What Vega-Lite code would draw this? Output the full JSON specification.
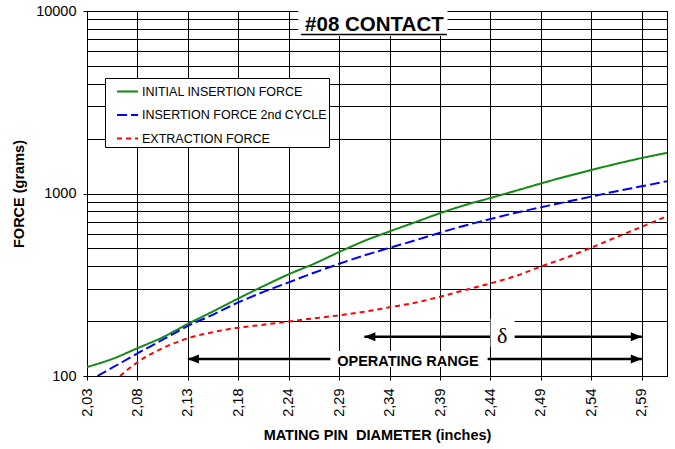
{
  "$schema": "https://vega.github.io/schema/vega-lite/v6.json",
  "autosize": {"type": "none"},
  "padding": {"left": 87, "top": 11, "right": 8, "bottom": 73},
  "width": 580,
  "height": 365,
  "background": "white",
  "config": {
    "font": "Liberation Sans",
    "view": {"stroke": "black", "strokeWidth": 1},
    "legend": {
      "orient": "none",
      "legendX": 18,
      "legendY": 67,
      "fillColor": "white",
      "strokeColor": "black",
      "padding": 2,
      "symbolOffset": 9,
      "symbolType": "stroke",
      "symbolSize": 441,
      "symbolStrokeWidth": 2,
      "labelFontSize": 12.5,
      "labelFont": "Liberation Sans",
      "labelColor": "black",
      "labelOffset": 3,
      "rowPadding": 5.5,
      "labelLimit": 400
    }
  },
  "datasets": {
    "curves": [
      {"x": 2.032, "force": 112, "series": "INITIAL INSERTION FORCE"},
      {"x": 2.0574, "force": 124, "series": "INITIAL INSERTION FORCE"},
      {"x": 2.0828, "force": 142, "series": "INITIAL INSERTION FORCE"},
      {"x": 2.1082, "force": 163, "series": "INITIAL INSERTION FORCE"},
      {"x": 2.1336, "force": 193, "series": "INITIAL INSERTION FORCE"},
      {"x": 2.159, "force": 226, "series": "INITIAL INSERTION FORCE"},
      {"x": 2.1844, "force": 266, "series": "INITIAL INSERTION FORCE"},
      {"x": 2.2098, "force": 311, "series": "INITIAL INSERTION FORCE"},
      {"x": 2.2352, "force": 361, "series": "INITIAL INSERTION FORCE"},
      {"x": 2.2606, "force": 412, "series": "INITIAL INSERTION FORCE"},
      {"x": 2.286, "force": 478, "series": "INITIAL INSERTION FORCE"},
      {"x": 2.3114, "force": 550, "series": "INITIAL INSERTION FORCE"},
      {"x": 2.3368, "force": 620, "series": "INITIAL INSERTION FORCE"},
      {"x": 2.3622, "force": 695, "series": "INITIAL INSERTION FORCE"},
      {"x": 2.3876, "force": 780, "series": "INITIAL INSERTION FORCE"},
      {"x": 2.413, "force": 865, "series": "INITIAL INSERTION FORCE"},
      {"x": 2.4384, "force": 945, "series": "INITIAL INSERTION FORCE"},
      {"x": 2.4638, "force": 1035, "series": "INITIAL INSERTION FORCE"},
      {"x": 2.4892, "force": 1135, "series": "INITIAL INSERTION FORCE"},
      {"x": 2.5146, "force": 1240, "series": "INITIAL INSERTION FORCE"},
      {"x": 2.54, "force": 1345, "series": "INITIAL INSERTION FORCE"},
      {"x": 2.5654, "force": 1455, "series": "INITIAL INSERTION FORCE"},
      {"x": 2.5908, "force": 1565, "series": "INITIAL INSERTION FORCE"},
      {"x": 2.6162, "force": 1670, "series": "INITIAL INSERTION FORCE"},
      {"x": 2.0425, "force": 100, "series": "INSERTION FORCE 2nd CYCLE"},
      {"x": 2.0574, "force": 111, "series": "INSERTION FORCE 2nd CYCLE"},
      {"x": 2.0828, "force": 133, "series": "INSERTION FORCE 2nd CYCLE"},
      {"x": 2.1082, "force": 158, "series": "INSERTION FORCE 2nd CYCLE"},
      {"x": 2.1336, "force": 188, "series": "INSERTION FORCE 2nd CYCLE"},
      {"x": 2.159, "force": 217, "series": "INSERTION FORCE 2nd CYCLE"},
      {"x": 2.1844, "force": 253, "series": "INSERTION FORCE 2nd CYCLE"},
      {"x": 2.2098, "force": 289, "series": "INSERTION FORCE 2nd CYCLE"},
      {"x": 2.2352, "force": 326, "series": "INSERTION FORCE 2nd CYCLE"},
      {"x": 2.2606, "force": 368, "series": "INSERTION FORCE 2nd CYCLE"},
      {"x": 2.286, "force": 412, "series": "INSERTION FORCE 2nd CYCLE"},
      {"x": 2.3114, "force": 458, "series": "INSERTION FORCE 2nd CYCLE"},
      {"x": 2.3368, "force": 504, "series": "INSERTION FORCE 2nd CYCLE"},
      {"x": 2.3622, "force": 553, "series": "INSERTION FORCE 2nd CYCLE"},
      {"x": 2.3876, "force": 610, "series": "INSERTION FORCE 2nd CYCLE"},
      {"x": 2.413, "force": 668, "series": "INSERTION FORCE 2nd CYCLE"},
      {"x": 2.4384, "force": 725, "series": "INSERTION FORCE 2nd CYCLE"},
      {"x": 2.4638, "force": 784, "series": "INSERTION FORCE 2nd CYCLE"},
      {"x": 2.4892, "force": 840, "series": "INSERTION FORCE 2nd CYCLE"},
      {"x": 2.5146, "force": 900, "series": "INSERTION FORCE 2nd CYCLE"},
      {"x": 2.54, "force": 962, "series": "INSERTION FORCE 2nd CYCLE"},
      {"x": 2.5654, "force": 1030, "series": "INSERTION FORCE 2nd CYCLE"},
      {"x": 2.5908, "force": 1096, "series": "INSERTION FORCE 2nd CYCLE"},
      {"x": 2.6162, "force": 1168, "series": "INSERTION FORCE 2nd CYCLE"},
      {"x": 2.0653, "force": 100, "series": "EXTRACTION FORCE"},
      {"x": 2.0828, "force": 119, "series": "EXTRACTION FORCE"},
      {"x": 2.1082, "force": 142, "series": "EXTRACTION FORCE"},
      {"x": 2.1336, "force": 161, "series": "EXTRACTION FORCE"},
      {"x": 2.159, "force": 174, "series": "EXTRACTION FORCE"},
      {"x": 2.1844, "force": 184, "series": "EXTRACTION FORCE"},
      {"x": 2.2098, "force": 191, "series": "EXTRACTION FORCE"},
      {"x": 2.2352, "force": 199, "series": "EXTRACTION FORCE"},
      {"x": 2.2606, "force": 207, "series": "EXTRACTION FORCE"},
      {"x": 2.286, "force": 215, "series": "EXTRACTION FORCE"},
      {"x": 2.3114, "force": 225, "series": "EXTRACTION FORCE"},
      {"x": 2.3368, "force": 238, "series": "EXTRACTION FORCE"},
      {"x": 2.3622, "force": 252, "series": "EXTRACTION FORCE"},
      {"x": 2.3876, "force": 272, "series": "EXTRACTION FORCE"},
      {"x": 2.413, "force": 296, "series": "EXTRACTION FORCE"},
      {"x": 2.4384, "force": 322, "series": "EXTRACTION FORCE"},
      {"x": 2.4638, "force": 353, "series": "EXTRACTION FORCE"},
      {"x": 2.4892, "force": 398, "series": "EXTRACTION FORCE"},
      {"x": 2.5146, "force": 445, "series": "EXTRACTION FORCE"},
      {"x": 2.54, "force": 505, "series": "EXTRACTION FORCE"},
      {"x": 2.5654, "force": 577, "series": "EXTRACTION FORCE"},
      {"x": 2.5908, "force": 657, "series": "EXTRACTION FORCE"},
      {"x": 2.6162, "force": 752, "series": "EXTRACTION FORCE"}
    ],
    "shafts": [
      {"x": 2.3114, "x2": 2.5908, "y": 164},
      {"x": 2.1336, "x2": 2.5908, "y": 124}
    ],
    "heads": [
      {"x": 2.3114, "y": 164, "dir": "left"},
      {"x": 2.5908, "y": 164, "dir": "right"},
      {"x": 2.1336, "y": 124, "dir": "left"},
      {"x": 2.5908, "y": 124, "dir": "right"}
    ],
    "boxes": [
      {"x": 2.2448, "x2": 2.3951, "y": 10000, "y2": 7300},
      {"x": 2.4385, "x2": 2.4627, "y": 206, "y2": 144},
      {"x": 2.2771, "x2": 2.4355, "y": 137, "y2": 112}
    ],
    "underline": [
      {"x": 2.2475, "x2": 2.3945, "y": 7430}
    ]
  },
  "layer": [
    {
      "data": {"name": "curves"},
      "mark": {"type": "line", "clip": true, "strokeWidth": 2, "interpolate": "monotone"},
      "encoding": {
        "x": {
          "field": "x",
          "type": "quantitative",
          "scale": {"domain": [2.032, 2.6162], "nice": false, "zero": false},
          "axis": {
            "title": "MATING PIN\u00a0 DIAMETER (inches)",
            "titleFont": "Liberation Sans",
            "titleFontSize": 14.5,
            "titleFontWeight": "bold",
            "titleColor": "black",
            "titlePadding": 12,
            "values": [2.032, 2.0574, 2.0828, 2.1082, 2.1336, 2.159, 2.1844, 2.2098, 2.2352, 2.2606, 2.286, 2.3114, 2.3368, 2.3622, 2.3876, 2.413, 2.4384, 2.4638, 2.4892, 2.5146, 2.54, 2.5654, 2.5908, 2.6162],
            "labelExpr": "(round((datum.value - 2.032) / 0.0254) % 2 == 0 && datum.value < 2.6) ? replace(format(datum.value, '.2f'), '.', ',') : ''",
            "labelAngle": 270,
            "labelFontSize": 14.5,
            "labelColor": "black",
            "labelPadding": 8,
            "labelOverlap": false,
            "labelFlush": false,
            "tickSize": 4,
            "tickColor": "black",
            "domainColor": "black",
            "grid": true,
            "gridColor": "black",
            "gridOpacity": 1,
            "gridWidth": 1
          }
        },
        "y": {
          "field": "force",
          "type": "quantitative",
          "scale": {"type": "log", "domain": [100, 10000], "nice": false},
          "axis": {
            "title": "FORCE (grams)",
            "titleFont": "Liberation Sans",
            "titleFontSize": 14.5,
            "titleFontWeight": "bold",
            "titleColor": "black",
            "titlePadding": 9,
            "values": [100, 200, 300, 400, 500, 600, 700, 800, 900, 1000, 2000, 3000, 4000, 5000, 6000, 7000, 8000, 9000, 10000],
            "labelExpr": "(datum.value == 100 || datum.value == 1000 || datum.value == 10000) ? format(datum.value, 'd') : ''",
            "labelFontSize": 14.5,
            "labelColor": "black",
            "labelPadding": 7,
            "labelOverlap": false,
            "labelFlush": false,
            "tickSize": 4,
            "tickColor": "black",
            "tickOpacity": {"condition": {"test": "datum.value == 100 || datum.value == 1000 || datum.value == 10000", "value": 1}, "value": 0},
            "domainColor": "black",
            "grid": true,
            "gridColor": "black",
            "gridOpacity": 1,
            "gridWidth": 1
          }
        },
        "color": {
          "field": "series",
          "type": "nominal",
          "scale": {
            "domain": ["INITIAL INSERTION FORCE", "INSERTION FORCE 2nd CYCLE", "EXTRACTION FORCE"],
            "range": ["#138a13", "#0000ff", "#ff0000"]
          },
          "legend": {"title": null, "labelExpr": "datum.label + '\u00a0\u00a0\u00a0\u00a0\u00a0'"}
        },
        "strokeDash": {
          "field": "series",
          "type": "nominal",
          "scale": {
            "domain": ["INITIAL INSERTION FORCE", "INSERTION FORCE 2nd CYCLE", "EXTRACTION FORCE"],
            "range": [[1, 0], [10, 4], [5, 4]]
          },
          "legend": {"title": null, "labelExpr": "datum.label + '\u00a0\u00a0\u00a0\u00a0\u00a0'"}
        }
      }
    },
    {
      "data": {"name": "shafts"},
      "mark": {"type": "rule", "color": "black", "strokeWidth": 2.5},
      "encoding": {
        "x": {"field": "x", "type": "quantitative"},
        "x2": {"field": "x2"},
        "y": {"field": "y", "type": "quantitative"}
      }
    },
    {
      "data": {"name": "heads"},
      "mark": {"type": "point", "filled": true, "color": "black", "opacity": 1, "size": 100, "strokeWidth": 0},
      "encoding": {
        "x": {"field": "x", "type": "quantitative"},
        "y": {"field": "y", "type": "quantitative"},
        "shape": {
          "field": "dir",
          "type": "nominal",
          "scale": {"domain": ["left", "right"], "range": ["M0,0L2.2,-0.9L2.2,0.9Z", "M0,0L-2.2,-0.9L-2.2,0.9Z"]},
          "legend": null
        }
      }
    },
    {
      "data": {"name": "boxes"},
      "mark": {"type": "rect", "fill": "white", "stroke": null},
      "encoding": {
        "x": {"field": "x", "type": "quantitative"},
        "x2": {"field": "x2"},
        "y": {"field": "y", "type": "quantitative"},
        "y2": {"field": "y2"}
      }
    },
    {
      "data": {"name": "underline"},
      "mark": {"type": "rule", "color": "black", "strokeWidth": 1.5},
      "encoding": {
        "x": {"field": "x", "type": "quantitative"},
        "x2": {"field": "x2"},
        "y": {"field": "y", "type": "quantitative"}
      }
    },
    {
      "data": {"values": [{"x": 2.3215, "y": 7730, "t": "#08 CONTACT"}]},
      "mark": {"type": "text", "font": "Liberation Sans", "fontSize": 20.5, "fontWeight": "bold", "color": "black", "align": "center", "baseline": "alphabetic"},
      "encoding": {
        "x": {"field": "x", "type": "quantitative"},
        "y": {"field": "y", "type": "quantitative"},
        "text": {"field": "t"}
      }
    },
    {
      "data": {"values": [{"x": 2.4503, "y": 152, "t": "δ"}]},
      "mark": {"type": "text", "font": "Liberation Serif", "fontSize": 22, "color": "black", "align": "center", "baseline": "alphabetic"},
      "encoding": {
        "x": {"field": "x", "type": "quantitative"},
        "y": {"field": "y", "type": "quantitative"},
        "text": {"field": "t"}
      }
    },
    {
      "data": {"values": [{"x": 2.3553, "y": 113.5, "t": "OPERATING RANGE"}]},
      "mark": {"type": "text", "font": "Liberation Sans", "fontSize": 14.5, "fontWeight": "bold", "color": "black", "align": "center", "baseline": "alphabetic"},
      "encoding": {
        "x": {"field": "x", "type": "quantitative"},
        "y": {"field": "y", "type": "quantitative"},
        "text": {"field": "t"}
      }
    }
  ]
}
